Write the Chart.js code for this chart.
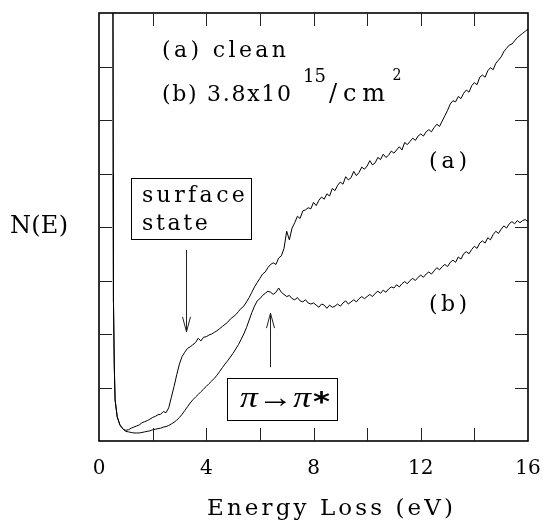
<!DOCTYPE html>
<html><head><meta charset="utf-8">
<script src="https://cdn.jsdelivr.net/npm/chart.js@4/dist/chart.umd.min.js"></script>
<style>html,body{margin:0;padding:0;background:#fff}</style>
</head><body>
<canvas id="c" width="543" height="520"></canvas>
<script>
// ---- data ----
const energy = [
 0.52,0.53,0.54,0.57,0.6,0.68,0.78,0.9,
 1.0,1.1,1.2,1.3,1.4,1.5,1.6,1.7,1.8,1.9,
 2.0,2.1,2.2,2.3,2.4,2.5,2.6,2.7,2.8,2.9,
 3.0,3.1,3.2,3.3,3.4,3.5,3.6,3.7,3.8,3.9,
 4.0,4.1,4.2,4.3,4.4,4.5,4.6,4.7,4.8,4.9,
 5.0,5.1,5.2,5.3,5.4,5.5,5.6,5.7,5.8,5.9,
 6.0,6.1,6.2,6.3,6.4,6.5,6.6,6.7,6.8,6.9,
 7.0,7.1,7.2,7.3,7.4,7.5,7.6,7.7,7.8,7.9,
 8.0,8.1,8.2,8.3,8.4,8.5,8.6,8.7,8.8,8.9,
 9.0,9.1,9.2,9.3,9.4,9.5,9.6,9.7,9.8,9.9,
 10.0,10.1,10.2,10.3,10.4,10.5,10.6,10.7,10.8,10.9,
 11.0,11.1,11.2,11.3,11.4,11.5,11.6,11.7,11.8,11.9,
 12.0,12.1,12.2,12.3,12.4,12.5,12.6,12.7,12.8,12.9,
 13.0,13.1,13.2,13.3,13.4,13.5,13.6,13.7,13.8,13.9,
 14.0,14.1,14.2,14.3,14.4,14.5,14.6,14.7,14.8,14.9,
 15.0,15.1,15.2,15.3,15.4,15.5,15.6,15.7,15.8,15.9,
 16.0
];
// (a) clean surface
const curveA = [
 8.5,5.0,2.6,1.4,0.77,0.45,0.30,0.22,
 0.20,0.21,0.24,0.26,0.28,0.30,0.34,0.36,0.38,0.41,
 0.44,0.46,0.49,0.50,0.55,0.53,0.62,0.82,1.02,1.24,
 1.44,1.58,1.66,1.73,1.76,1.80,1.84,1.92,1.87,1.94,
 1.95,1.98,2.00,2.03,2.06,2.10,2.14,2.18,2.22,2.28,
 2.32,2.36,2.42,2.48,2.52,2.60,2.68,2.78,2.88,2.96,
 3.04,3.12,3.16,3.24,3.30,3.33,3.30,3.42,3.46,3.60,
 3.92,3.76,3.98,4.08,4.20,4.16,4.30,4.32,4.36,4.34,
 4.46,4.40,4.50,4.56,4.52,4.62,4.58,4.72,4.68,4.78,
 4.84,4.80,4.94,4.88,4.92,5.04,4.96,5.02,5.12,5.08,
 5.14,5.24,5.16,5.20,5.30,5.26,5.36,5.30,5.34,5.42,
 5.38,5.44,5.50,5.44,5.58,5.54,5.60,5.66,5.62,5.70,
 5.74,5.70,5.78,5.82,5.78,5.86,5.92,5.88,5.98,6.08,
 6.18,6.30,6.36,6.34,6.44,6.40,6.50,6.56,6.52,6.64,
 6.70,6.66,6.80,6.84,6.80,6.92,6.98,6.94,7.06,7.12,
 7.18,7.28,7.34,7.40,7.42,7.48,7.54,7.58,7.62,7.66,
 7.70
];
// (b) 3.8x10^15 /cm^2
const curveB = [
 8.5,5.0,2.6,1.4,0.77,0.45,0.30,0.22,
 0.18,0.17,0.16,0.15,0.15,0.15,0.16,0.17,0.18,0.19,
 0.21,0.22,0.23,0.24,0.26,0.27,0.29,0.32,0.35,0.39,
 0.44,0.50,0.57,0.64,0.71,0.77,0.82,0.87,0.92,0.97,
 1.02,1.07,1.12,1.17,1.23,1.30,1.37,1.44,1.50,1.57,
 1.64,1.72,1.80,1.90,2.00,2.12,2.26,2.40,2.52,2.62,
 2.66,2.72,2.76,2.80,2.78,2.74,2.78,2.86,2.78,2.74,
 2.70,2.72,2.66,2.64,2.68,2.62,2.60,2.64,2.58,2.56,
 2.58,2.54,2.50,2.56,2.54,2.48,2.54,2.50,2.52,2.56,
 2.52,2.58,2.62,2.56,2.60,2.64,2.60,2.66,2.70,2.66,
 2.70,2.74,2.70,2.76,2.80,2.76,2.82,2.78,2.84,2.88,
 2.86,2.92,2.88,2.94,2.98,2.94,3.00,3.04,3.00,3.06,
 3.10,3.06,3.12,3.16,3.12,3.18,3.24,3.20,3.26,3.30,
 3.26,3.34,3.38,3.34,3.44,3.40,3.50,3.54,3.50,3.58,
 3.64,3.60,3.70,3.74,3.70,3.80,3.76,3.86,3.92,3.88,
 3.96,4.02,3.98,4.06,4.10,4.06,4.12,4.08,4.12,4.14,
 4.10
];
const xFrameTicks = [2,4,6,8,10,12,14];
const yFrameTicks = [1,2,3,4,5,6,7];
const xTitle = 'Energy Loss (eV)';
const yTitle = 'N(E)';
const legendA = '(a) clean';
const legendB = ['(b) 3.8x10', '15', '/cm', '2'];
const curveLabels = ['(a)', '(b)'];
const boxSurface = ['surface', 'state'];
const boxPi = ['\u03c0\u2192\u03c0', '*'];

const SERIF = '"DejaVu Serif", serif';

// draw a string with its left edge at (x, baseline y), spaced (or stretched) to width w
function fitText(ctx, str, x, y, font, w, stretch) {
  ctx.save();
  ctx.font = font;
  ctx.textAlign = 'left';
  ctx.textBaseline = 'alphabetic';
  const hasLS = 'letterSpacing' in ctx;
  if (hasLS) ctx.letterSpacing = '0px';
  const nat = ctx.measureText(str).width;
  ctx.translate(x, y);
  if (!stretch && w && w > nat && hasLS && str.length > 1) {
    ctx.letterSpacing = ((w - nat) / (str.length - 1)).toFixed(2) + 'px';
  } else if (w) {
    ctx.scale(w / nat, 1);
  }
  ctx.fillText(str, 0, 0);
  ctx.restore();
}

const annot = {
  id: 'annot',
  afterDraw(chart) {
    const { ctx, chartArea: a } = chart;
    const X = v => chart.scales.x.getPixelForValue(v);
    const Y = v => chart.scales.y.getPixelForValue(v);
    const line = (x1, y1, x2, y2) => { ctx.beginPath(); ctx.moveTo(x1, y1); ctx.lineTo(x2, y2); ctx.stroke(); };
    ctx.save();
    // frame
    ctx.strokeStyle = '#000'; ctx.lineWidth = 1.6;
    ctx.strokeRect(a.left, a.top, a.right - a.left, a.bottom - a.top);
    // inward ticks
    ctx.lineWidth = 1; ctx.strokeStyle = '#222';
    const L = 13;
    xFrameTicks.forEach(v => { const p = Math.round(X(v)) + 0.5; line(p, a.bottom, p, a.bottom - L); line(p, a.top, p, a.top + L); });
    yFrameTicks.forEach(v => { const p = Math.round(Y(v)) + 0.5; line(a.left, p, a.left + L, p); line(a.right, p, a.right - L, p); });

    ctx.fillStyle = '#000';
    // axis titles
    fitText(ctx, xTitle, X(4.03), Y(-1.383), '23px ' + SERIF, 246);
    fitText(ctx, yTitle, a.left - 89, Y(3.888), '24px ' + SERIF, 58);

    // legend text
    fitText(ctx, legendA, X(2.35), Y(7.178), '22px ' + SERIF, 124);
    fitText(ctx, legendB[0], X(2.35), Y(6.36), '22px ' + SERIF, 129);
    fitText(ctx, legendB[1], X(7.61), Y(6.71), '18px ' + SERIF, 23);
    fitText(ctx, legendB[2], X(8.58), Y(6.36), '24px ' + SERIF, 56);
    fitText(ctx, legendB[3], X(10.95), Y(6.75), '16px ' + SERIF, 9);

    // curve labels
    fitText(ctx, curveLabels[0], X(12.31), Y(5.10), '22px ' + SERIF, 38);
    fitText(ctx, curveLabels[1], X(12.31), Y(2.43), '22px ' + SERIF, 38);

    // surface state box
    ctx.strokeStyle = '#000'; ctx.lineWidth = 1;
    ctx.strokeRect(Math.round(X(1.19)) + 0.5, Math.round(Y(4.92)) + 0.5, Math.round(X(5.67) - X(1.19)), Math.round(Y(3.78) - Y(4.92)));
    fitText(ctx, boxSurface[0], X(1.60), Y(4.467), '22px ' + SERIF, 103);
    fitText(ctx, boxSurface[1], X(1.60), Y(3.944), '22px ' + SERIF, 66);

    // arrow down to surface state
    ctx.strokeStyle = '#222';
    const ax = Math.round(X(3.25)) + 0.5;
    line(ax, Y(3.57), ax, Y(2.04));
    ctx.beginPath(); ctx.moveTo(ax - 4, Y(2.04) - 15); ctx.lineTo(ax, Y(2.04)); ctx.lineTo(ax + 4, Y(2.04) - 15); ctx.stroke();

    // pi box
    ctx.strokeStyle = '#000';
    ctx.strokeRect(Math.round(X(4.77)) + 0.5, Math.round(Y(1.18)) + 0.5, Math.round(X(8.88) - X(4.77)), Math.round(Y(0.39) - Y(1.18)));
    fitText(ctx, boxPi[0], X(5.26), Y(0.636), 'italic 30px "Liberation Serif", serif', 71, true);
    fitText(ctx, boxPi[1], X(7.98), Y(0.56), 'bold 26px "DejaVu Sans", sans-serif', 17);

    // arrow up to pi -> pi* peak
    ctx.strokeStyle = '#222';
    const bx = Math.round(X(6.38)) + 0.5;
    line(bx, Y(1.38), bx, Y(2.39));
    ctx.beginPath(); ctx.moveTo(bx - 4, Y(2.39) + 15); ctx.lineTo(bx, Y(2.39)); ctx.lineTo(bx + 4, Y(2.39) + 15); ctx.stroke();
    ctx.restore();
  }
};

new Chart(document.getElementById('c'), {
  type: 'line',
  data: {
    datasets: [
      { label: '(a) clean', data: energy.map((e, i) => ({ x: e, y: curveA[i] })), borderColor: '#000', borderWidth: 1, pointRadius: 0, tension: 0, fill: false },
      { label: '(b) 3.8x10^15/cm^2', data: energy.map((e, i) => ({ x: e, y: curveB[i] })), borderColor: '#000', borderWidth: 1, pointRadius: 0, tension: 0, fill: false }
    ]
  },
  options: {
    responsive: false, animation: false,
    layout: { padding: { left: 0, right: 15, top: 13, bottom: 0 } },
    plugins: { legend: { display: false }, tooltip: { enabled: false } },
    scales: {
      x: {
        type: 'linear', min: 0, max: 16,
        afterFit(s) { s.height = 79; s.paddingLeft = 0; s.paddingRight = 0; },
        grid: { display: false, drawTicks: false },
        border: { display: false },
        ticks: { stepSize: 4, padding: 16, color: '#000', font: { family: SERIF, size: 20 } },
        title: { display: false, text: xTitle }
      },
      y: {
        min: 0, max: 8,
        afterFit(s) { s.width = 99; s.paddingTop = 0; s.paddingBottom = 0; },
        grid: { display: false },
        border: { display: false },
        ticks: { display: false, stepSize: 1 }
      }
    }
  },
  plugins: [annot]
});
</script>
</body></html>
